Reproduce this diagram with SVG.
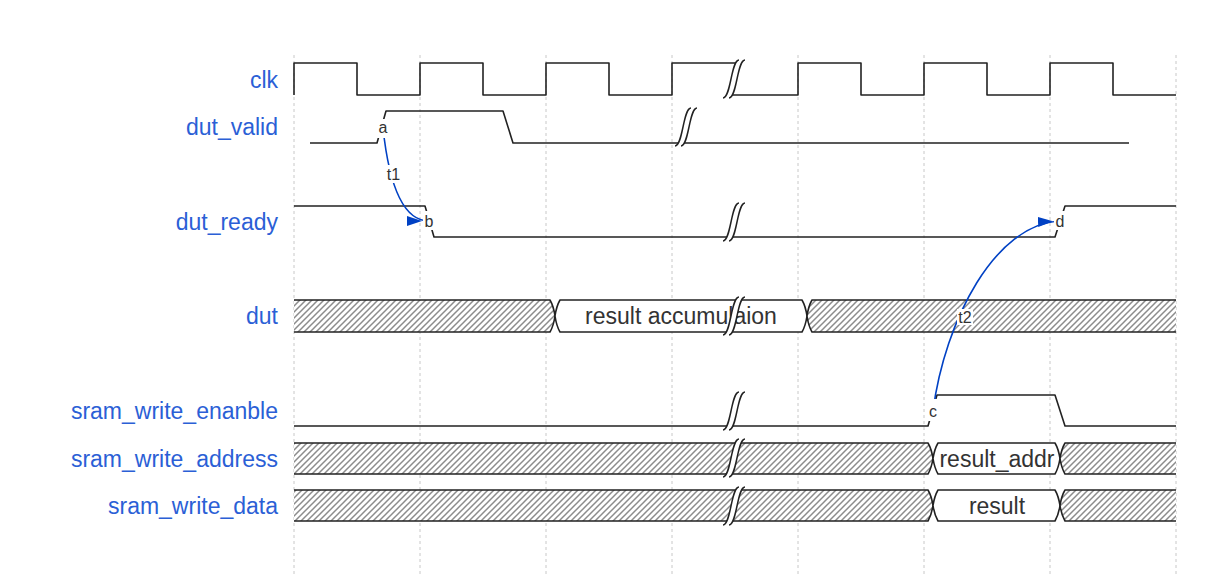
<svg xmlns="http://www.w3.org/2000/svg" width="1222" height="582" viewBox="0 0 1222 582">
<style>
.grid{stroke:#c8c8c8;stroke-width:1;stroke-dasharray:3,3;fill:none}
.sig{fill:none;stroke:#222;stroke-width:1.6;stroke-linejoin:round}
.bus{stroke:#222;stroke-width:1.6;stroke-linejoin:round}
.lbl{font-family:"Liberation Sans",Arial,sans-serif;font-size:23px;fill:#2b5fd6;text-anchor:end}
.bt{font-family:"Liberation Sans",Arial,sans-serif;font-size:23px;fill:#333;text-anchor:middle}
.nt{font-family:"Liberation Sans",Arial,sans-serif;font-size:16px;fill:#333;text-anchor:middle}
.hat{fill:url(#hatch);stroke:none}
.wb{fill:#fff;stroke:none}
.arr{fill:none;stroke:#0041c4;stroke-width:1.6;marker-end:url(#ah)}
</style>
<defs>
<pattern id="hatch" width="6" height="6" patternUnits="userSpaceOnUse">
<rect width="6" height="6" fill="#fff"/>
<path d="M-1,1 L1,-1 M0,6 L6,0 M5,7 L7,5" stroke="#8c8c8c" stroke-width="1.5"/>
</pattern>
<marker id="ah" markerUnits="userSpaceOnUse" markerWidth="15" markerHeight="10" viewBox="0 -5 15 10" refX="22" refY="0" orient="auto"><path d="M0,-5 L15,0 L0,5 z" fill="#0041c4"/></marker>
<g id="gap">
<path d="M11,0 L5,0 C-3,0 -3,38 -11,38 L-5,38 C3,38 3,0 11,0 Z" fill="#fff"/>
<path d="M-11,38 C-3,38 -3,0 5,0 M-5,38 C3,38 3,0 11,0" fill="none" stroke="#222" stroke-width="1.5"/>
</g>
</defs>
<rect width="1222" height="582" fill="#fff"/>
<g id="grid">
<path class="grid" d="M294,55V575 M420,55V575 M546,55V575 M672,55V575 M798,55V575 M924,55V575 M1050,55V575 M1176,55V575"/>
</g>
<g id="clk">
<text class="lbl" x="278" y="88">clk</text>
<path class="sig" d="M294,95 L294,63 L357,63 L357,95 L420,95 L420,63 L483,63 L483,95 L546,95 L546,63 L609,63 L609,95 L672,95 L672,63 L740,63 M728,95 L798,95 L798,63 L861,63 L861,95 L924,95 L924,63 L987,63 L987,95 L1050,95 L1050,63 L1113,63 L1113,95 L1176,95"/>
<use href="#gap" transform="translate(734,60)"/>
</g>
<g id="dut_valid">
<text class="lbl" x="278" y="135">dut_valid</text>
<path class="sig" d="M310,143 L377,143 L386,111 L503,111 L513,143 L1129,143"/>
<use href="#gap" transform="translate(686,108)"/>
</g>
<g id="dut_ready">
<text class="lbl" x="278" y="230">dut_ready</text>
<path class="sig" d="M294,206 L425,206 L434,237 L1055,237 L1065,206 L1176,206"/>
<use href="#gap" transform="translate(734,203)"/>
</g>
<g id="dut">
<text class="lbl" x="278" y="324">dut</text>
<path class="hat" d="M294,300 L550,300 Q553.5,306 555,316 Q553.5,326 550,332 L294,332 Z"/>
<path class="bus" fill="none" d="M294,300 L550,300 Q553.5,306 555,316 Q553.5,326 550,332 L294,332"/>
<path class="bus" fill="#fff" d="M560,300 L802,300 Q805.5,306 807,316 Q805.5,326 802,332 L560,332 Q556.5,326 555,316 Q556.5,306 560,300 Z"/>
<path class="hat" d="M1176,300 L812,300 Q808.5,306 807,316 Q808.5,326 812,332 L1176,332 Z"/>
<path class="bus" fill="none" d="M1176,300 L812,300 Q808.5,306 807,316 Q808.5,326 812,332 L1176,332"/>
<text class="bt" x="681" y="324">result accumulaion</text>
<use href="#gap" transform="translate(734,297)"/>
</g>
<g id="sram_write_enanble">
<text class="lbl" x="278" y="419">sram_write_enanble</text>
<path class="sig" d="M294,426 L928,426 L937,395 L1055,395 L1065,426 L1176,426"/>
<use href="#gap" transform="translate(734,392)"/>
</g>
<g id="sram_write_address">
<text class="lbl" x="278" y="467">sram_write_address</text>
<path class="hat" d="M294,443 L928,443 Q931.5,449 933,458.5 Q931.5,468 928,474 L294,474 Z"/>
<path class="bus" fill="none" d="M294,443 L928,443 Q931.5,449 933,458.5 Q931.5,468 928,474 L294,474"/>
<path class="bus" fill="#fff" d="M938,443 L1055,443 Q1058.5,449 1060,458.5 Q1058.5,468 1055,474 L938,474 Q934.5,468 933,458.5 Q934.5,449 938,443 Z"/>
<path class="hat" d="M1176,443 L1065,443 Q1061.5,449 1060,458.5 Q1061.5,468 1065,474 L1176,474 Z"/>
<path class="bus" fill="none" d="M1176,443 L1065,443 Q1061.5,449 1060,458.5 Q1061.5,468 1065,474 L1176,474"/>
<text class="bt" x="997" y="466.5">result_addr</text>
<use href="#gap" transform="translate(734,439)"/>
</g>
<g id="sram_write_data">
<text class="lbl" x="278" y="514">sram_write_data</text>
<path class="hat" d="M294,490 L928,490 Q931.5,496 933,505.5 Q931.5,515 928,521 L294,521 Z"/>
<path class="bus" fill="none" d="M294,490 L928,490 Q931.5,496 933,505.5 Q931.5,515 928,521 L294,521"/>
<path class="bus" fill="#fff" d="M938,490 L1055,490 Q1058.5,496 1060,505.5 Q1058.5,515 1055,521 L938,521 Q934.5,515 933,505.5 Q934.5,496 938,490 Z"/>
<path class="hat" d="M1176,490 L1065,490 Q1061.5,496 1060,505.5 Q1061.5,515 1065,521 L1176,521 Z"/>
<path class="bus" fill="none" d="M1176,490 L1065,490 Q1061.5,496 1060,505.5 Q1061.5,515 1065,521 L1176,521"/>
<text class="bt" x="997" y="513.5">result</text>
<use href="#gap" transform="translate(734,487)"/>
</g>
<g id="connectors">
<path id="t1" class="arr" d="M383,128 C388,175 400,221 429,221"/>
<path id="t2" class="arr" d="M933,411 C945,320 995,224 1060,221"/>
</g>
<g id="labels">
<rect class="wb" x="377" y="119" width="12" height="19"/>
<text class="nt" x="383" y="133">a</text>
<rect class="wb" x="423" y="211" width="13" height="19"/>
<text class="nt" x="429" y="227">b</text>
<rect class="wb" x="927" y="399" width="12" height="22"/>
<text class="nt" x="933" y="417">c</text>
<rect class="wb" x="1054" y="211" width="13" height="19"/>
<text class="nt" x="1060" y="227">d</text>
<rect class="wb" x="386" y="165" width="15" height="18"/>
<text class="nt" x="393.5" y="180">t1</text>
<rect class="wb" x="957" y="309" width="16" height="16"/>
<text class="nt" x="965" y="323">t2</text>
</g>
</svg>
